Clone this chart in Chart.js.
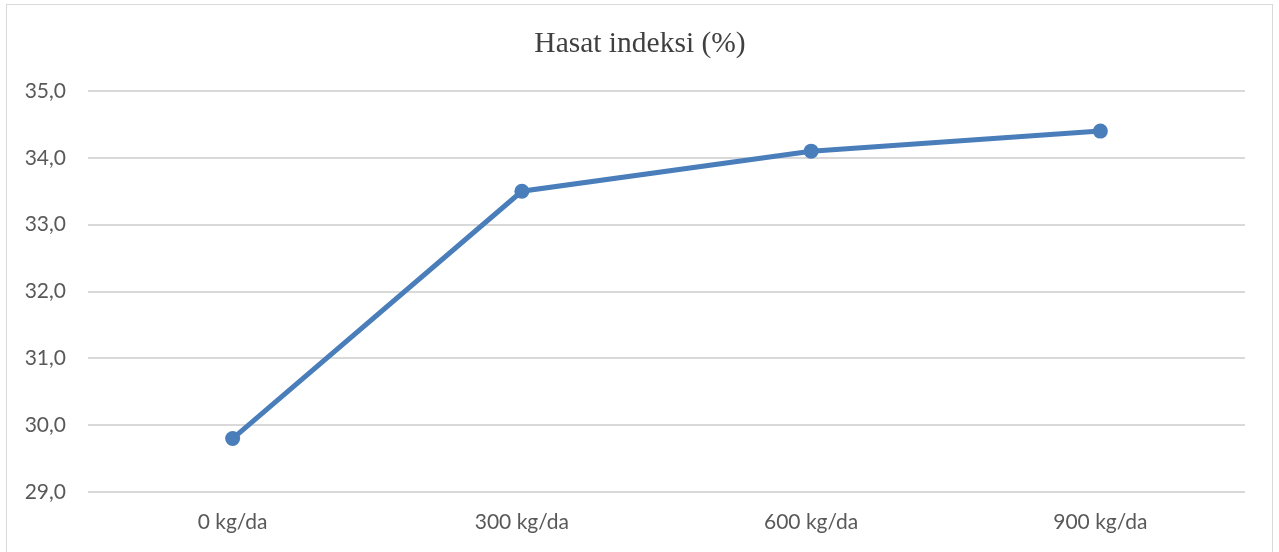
<!DOCTYPE html>
<html>
<head>
<meta charset="utf-8">
<script src="https://cdn.jsdelivr.net/npm/chart.js@4"></script>
<style>
  body { margin: 0; background: #fff; }
  #frame { position: absolute; left: 6px; top: 4px; width: 1265px; height: 570px; border: 1px solid #d9d9d9; }
  #wrap { position: absolute; left: 0; top: 0; width: 1279px; height: 552px; }
</style>
</head>
<body>
<div id="frame"></div>
<div id="wrap"><canvas id="c"></canvas></div>
<script>
const categories = ["0 kg/da", "300 kg/da", "600 kg/da", "900 kg/da"];
const hasatIndeksi = [29.8, 33.5, 34.1, 34.4];
const chartTitle = "Hasat indeksi (%)";

const lineColor = "#4a7ebb";

// title centred on the whole frame, not on the plot box
const frameTitle = {
  id: "frameTitle",
  afterDraw(chart) {
    const ctx = chart.ctx;
    ctx.save();
    ctx.font = "29.5px 'Liberation Serif'";
    ctx.fillStyle = "#404040";
    ctx.textAlign = "center";
    ctx.textBaseline = "middle";
    ctx.fillText(chartTitle, 640, 44);
    ctx.restore();
  }
};

new Chart(document.getElementById("c"), {
  type: "line",
  data: {
    labels: categories,
    datasets: [{
      label: chartTitle,
      data: hasatIndeksi,
      borderColor: lineColor,
      backgroundColor: lineColor,
      borderWidth: 5,
      pointRadius: 7.5,
      pointBackgroundColor: lineColor,
      pointBorderWidth: 0,
      tension: 0,
      fill: false
    }]
  },
  options: {
    responsive: true,
    maintainAspectRatio: false,
    animation: false,
    layout: { padding: { left: 0, right: 34, top: 91, bottom: 0 } },
    plugins: {
      legend: { display: false },
      tooltip: { enabled: false },
      title: { display: false }
    },
    scales: {
      x: {
        offset: true,
        afterFit: (scale) => { scale.height = 60; },
        grid: { display: false, drawTicks: false },
        border: { display: false },
        ticks: {
          color: "#595959",
          padding: 18,
          font: { family: "Lato", size: 21 }
        }
      },
      y: {
        min: 29,
        max: 35,
        afterFit: (scale) => { scale.width = 88; },
        grid: { color: "#d9d9d9", lineWidth: 2, drawTicks: false },
        border: { display: false },
        ticks: {
          stepSize: 1,
          color: "#595959",
          padding: 22,
          font: { family: "Lato", size: 21 },
          callback: (v) => v.toFixed(1).replace(".", ",")
        }
      }
    }
  },
  plugins: [frameTitle]
});
</script>
</body>
</html>
